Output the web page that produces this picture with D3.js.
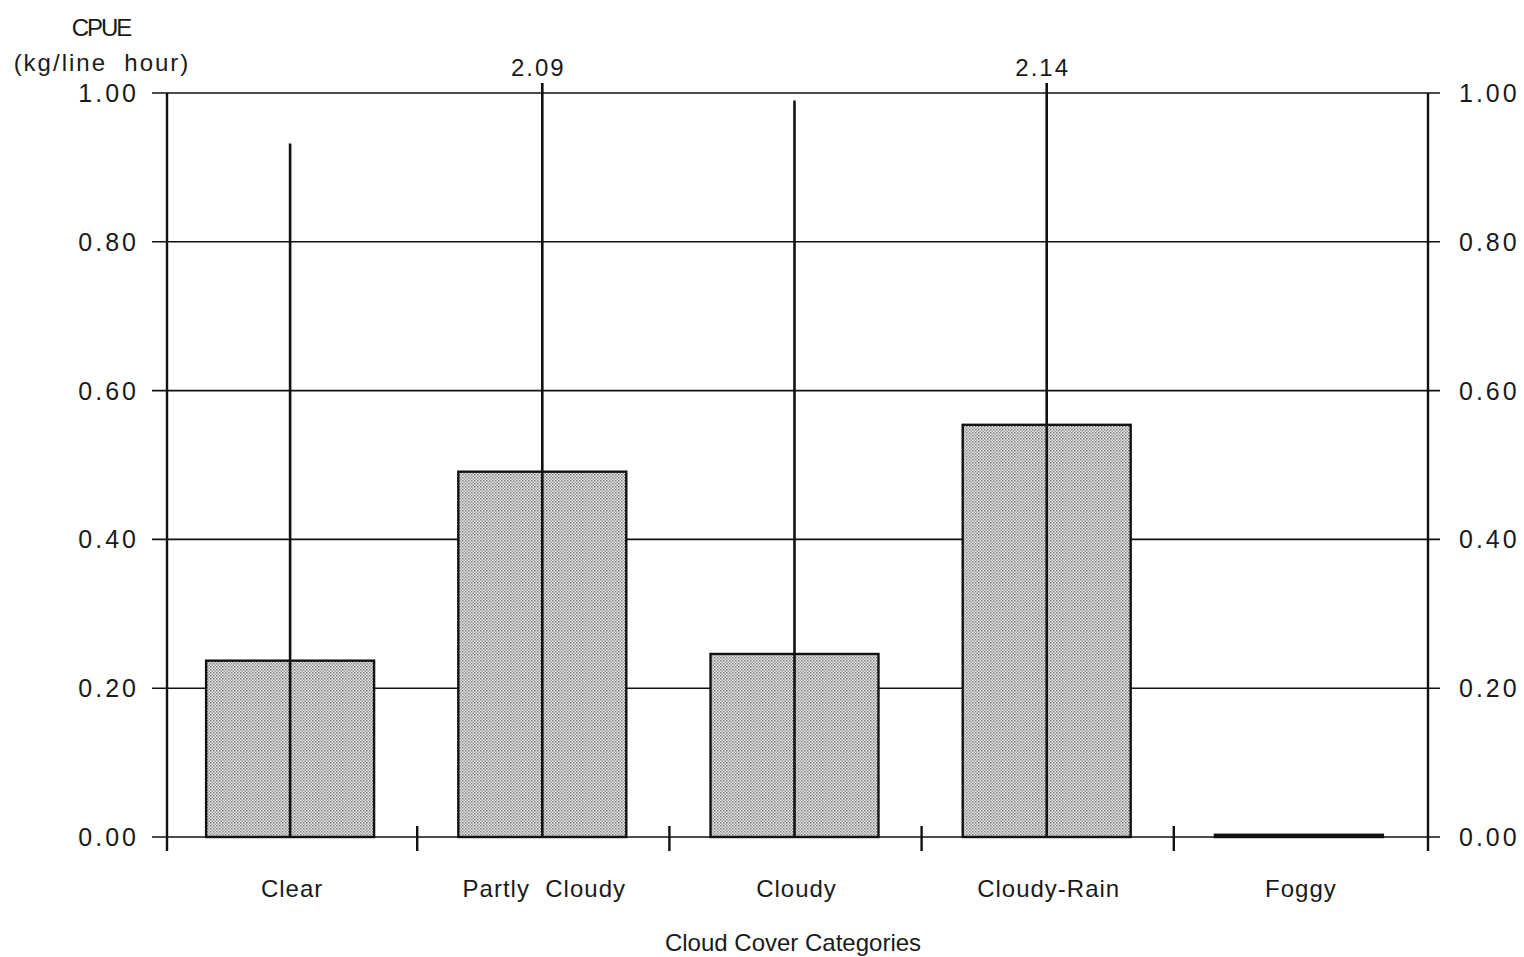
<!DOCTYPE html>
<html>
<head>
<style>
  body { margin: 0; background: #fff; }
  text { font-family: "Liberation Sans", Arial, sans-serif; fill: #1a1a1a; }
</style>
</head>
<body>

<script src="https://d3js.org/d3.v7.min.js"></script>
<script>

const categories = ['Clear', 'Partly  Cloudy', 'Cloudy', 'Cloudy-Rain', 'Foggy'];
const means = [0.237, 0.491, 0.246, 0.554, 0.003];
const uppers = [0.932, 2.09, 0.990, 2.14, null];
const yTicks = [0, 0.2, 0.4, 0.6, 0.8, 1.0];

const width = 1524;
const height = 957;
const plotLeft = 167, plotRight = 1428, plotTop = 93, plotBottom = 837;

const svg = d3.select('body')
              .append('svg')
              .attr('width', width)
              .attr('height', height);

// dotted grey fill like the original screen
const pat = svg.append('defs').append('pattern')
  .attr('id', 'dots')
  .attr('width', 3).attr('height', 3)
  .attr('patternUnits', 'userSpaceOnUse');
pat.append('rect').attr('width', 3).attr('height', 3).attr('fill', '#ececec');
pat.append('rect').attr('width', 1.5).attr('height', 1.5).attr('fill', '#7a7a7a');
pat.append('rect').attr('x', 1.5).attr('y', 1.5).attr('width', 1.5).attr('height', 1.5).attr('fill', '#9a9a9a');

const x = d3.scaleBand().domain(categories).range([plotLeft - 3, plotRight - 3]).paddingInner(0.334).paddingOuter(0.167);
const xb = d3.scaleBand().domain(categories).range([plotLeft, plotRight]);
const y = d3.scaleLinear().domain([0, 1]).range([plotBottom, plotTop]);

// gridlines
svg.append('g').selectAll('line')
  .data(yTicks)
  .enter().append('line')
  .attr('x1', plotLeft - 15).attr('x2', plotRight + 12)
  .attr('y1', d => y(d)).attr('y2', d => y(d))
  .attr('stroke', '#111').attr('stroke-width', 1.6);

// vertical axes
[plotLeft, plotRight].forEach(px => {
  svg.append('line')
    .attr('x1', px).attr('x2', px)
    .attr('y1', y(1)).attr('y2', plotBottom + 14)
    .attr('stroke', '#111').attr('stroke-width', 2.4);
});

// category boundary ticks
svg.append('g').selectAll('line')
  .data(categories.slice(1))
  .enter().append('line')
  .attr('x1', d => xb(d) - 2).attr('x2', d => xb(d) - 2)
  .attr('y1', plotBottom - 11).attr('y2', plotBottom + 14)
  .attr('stroke', '#111').attr('stroke-width', 2.4);

// tick labels both sides
const fmt = d3.format('.2f');
svg.append('g').selectAll('text')
  .data(yTicks)
  .enter().append('text')
  .attr('x', 139).attr('y', d => y(d) + 9)
  .attr('text-anchor', 'end')
  .attr('font-size', 25).attr('letter-spacing', 3)
  .text(fmt);
svg.append('g').selectAll('text')
  .data(yTicks)
  .enter().append('text')
  .attr('x', 1459).attr('y', d => y(d) + 9)
  .attr('font-size', 25).attr('letter-spacing', 3)
  .text(fmt);

// bars
svg.append('g').selectAll('rect')
  .data(categories)
  .enter().append('rect')
  .attr('x', d => x(d))
  .attr('width', x.bandwidth())
  .attr('y', (d, i) => y(means[i]))
  .attr('height', (d, i) => y(0) - y(means[i]))
  .attr('fill', 'url(#dots)')
  .attr('stroke', '#111').attr('stroke-width', 2.4);

// upper error lines
const cx = d => x(d) + x.bandwidth() / 2;
svg.append('g').selectAll('line')
  .data(categories.filter((d, i) => uppers[i] !== null))
  .enter().append('line')
  .attr('x1', cx).attr('x2', cx)
  .attr('y1', y(0))
  .attr('y2', d => {
    const u = uppers[categories.indexOf(d)];
    return u > 1 ? y(1) - 10 : y(u);
  })
  .attr('stroke', '#111').attr('stroke-width', 2.6);

// off-scale values
svg.append('g').selectAll('text')
  .data(categories.filter((d, i) => uppers[i] !== null && uppers[i] > 1))
  .enter().append('text')
  .attr('x', d => cx(d) - 4).attr('y', 76)
  .attr('text-anchor', 'middle')
  .attr('font-size', 24).attr('letter-spacing', 2)
  .text(d => fmt(uppers[categories.indexOf(d)]));

// category labels
svg.append('g').selectAll('text')
  .data(categories)
  .enter().append('text')
  .attr('x', d => cx(d) + 2).attr('y', 897)
  .attr('text-anchor', 'middle')
  .attr('font-size', 24).attr('letter-spacing', 1)
  .style('white-space', 'pre')
  .text(d => d);

svg.append('text')
  .attr('x', 793).attr('y', 951)
  .attr('text-anchor', 'middle')
  .attr('font-size', 24)
  .text('Cloud Cover Categories');

svg.append('text')
  .attr('x', 101).attr('y', 36)
  .attr('text-anchor', 'middle')
  .attr('font-size', 24).attr('letter-spacing', -2)
  .text('CPUE');

svg.append('text')
  .attr('x', 102).attr('y', 71)
  .attr('text-anchor', 'middle')
  .attr('font-size', 24).attr('letter-spacing', 2)
  .style('white-space', 'pre')
  .text('(kg/line  hour)');

</script>
</body>
</html>
